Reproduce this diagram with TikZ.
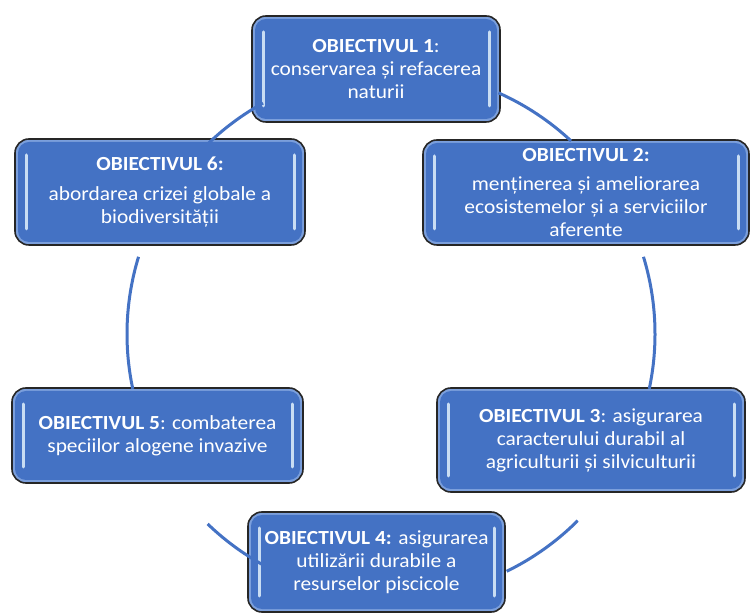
\documentclass[tikz,border=0pt]{standalone}
\usepackage{fontspec}
\setmainfont{Carlito}[FakeStretch=1.07]
\usetikzlibrary{positioning,calc}

\definecolor{objblue}{HTML}{4472C4}
\definecolor{objlite}{HTML}{7B9FDC}
\definecolor{objrim}{HTML}{C9DDF3}

\tikzset{
  objbox/.style={rectangle, rounded corners=14pt, draw=black!85, line width=1.6pt,
    fill=objblue, text=white, align=center, inner sep=0pt,
    font=\fontsize{20}{23}\selectfont,
    path picture={
      \fill[objlite] (path picture bounding box.south west) rectangle (path picture bounding box.north east);
      \fill[objblue, rounded corners=11pt] ([shift={(3pt,-3pt)}]path picture bounding box.north west) rectangle ([shift={(-3pt,3pt)}]path picture bounding box.south east);
      \draw[objrim, line width=3pt, line cap=round] ([shift={(11pt,-16pt)}]path picture bounding box.north west) -- ([shift={(11pt,16pt)}]path picture bounding box.south west);
      \draw[objrim, line width=3pt, line cap=round] ([shift={(-11pt,-16pt)}]path picture bounding box.north east) -- ([shift={(-11pt,16pt)}]path picture bounding box.south east);
    }},
  cycarc/.style={draw=objblue, line width=3pt}
}

\begin{document}
\begin{tikzpicture}[x=1pt,y=1pt]
\useasboundingbox (0,0) rectangle (751,615);

% objectives
\node[objbox, minimum width=248pt, minimum height=106pt] (o1) at (376,546)
  {\textbf{OBIECTIVUL 1}:\\conservarea și refacerea\\naturii};
\node[objbox, minimum width=326pt, minimum height=105pt] (o2) at (586,422.5)
  {\textbf{OBIECTIVUL 2:}\\[6pt]menținerea și ameliorarea\\ecosistemelor și a serviciilor\\aferente};
\node[objbox, minimum width=308pt, minimum height=104pt] (o3) at (591,175)
  {\textbf{OBIECTIVUL 3}: asigurarea\\caracterului durabil al\\agriculturii și silviculturii};
\node[objbox, minimum width=257pt, minimum height=100pt] (o4) at (376.5,53)
  {\textbf{OBIECTIVUL 4:} asigurarea\\utilizării durabile a\\resurselor piscicole};
\node[objbox, minimum width=291pt, minimum height=95pt] (o5) at (157.5,179.5)
  {\textbf{OBIECTIVUL 5}: combaterea\\speciilor alogene invazive};
\node[objbox, minimum width=290pt, minimum height=106pt] (o6) at (160,423)
  {\textbf{OBIECTIVUL 6:}\\[7pt]abordarea crizei globale a\\biodiversității};

% cycle arcs
\coordinate (c) at (391,281);
\coordinate (p12) at ($(c)+(66:264)$);
\coordinate (p23) at ($(c)+(17:264)$);
\coordinate (p34) at ($(c)+(-45:264)$);
\coordinate (p45) at ($(c)+(241:264)$);
\coordinate (p56) at ($(c)+(192:264)$);
\coordinate (p61) at ($(c)+(134:264)$);

\draw[cycarc] (p12) arc[start angle=66, end angle=47, radius=264];
\draw[cycarc] (p23) arc[start angle=17, end angle=-12, radius=264];
\draw[cycarc] (p34) arc[start angle=-45, end angle=-64, radius=264];
\draw[cycarc] (p45) arc[start angle=241, end angle=226, radius=264];
\draw[cycarc] (p56) arc[start angle=192, end angle=163, radius=264];
\draw[cycarc] (p61) arc[start angle=134, end angle=119, radius=264];
\end{tikzpicture}
\end{document}
